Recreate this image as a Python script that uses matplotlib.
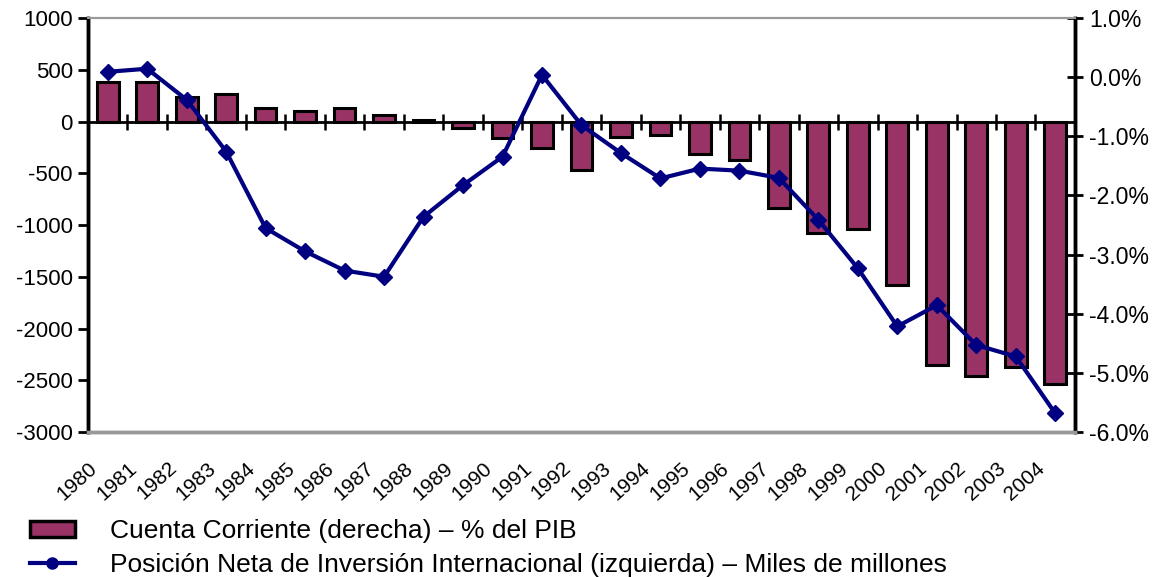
import matplotlib
matplotlib.use("Agg")
import matplotlib.pyplot as plt
import matplotlib.transforms as mtransforms
from matplotlib.lines import Line2D
from matplotlib.patches import Patch
import numpy as np

plt.rcParams['font.family'] = ['Liberation Sans', 'DejaVu Sans']
plt.rcParams['axes.unicode_minus'] = False

years = [str(y) for y in range(1980, 2005)]
# Posición Neta de Inversión Internacional (izquierda) – Miles de millones
pnii = [480, 510, 210, -290, -1030, -1255, -1440, -1500, -920, -615, -340, 450,
        -35, -305, -550, -455, -475, -545, -950, -1418, -1980, -1775, -2160, -2270, -2820]
# Cuenta Corriente (derecha) – % del PIB
cc = [-0.08, -0.08, -0.33, -0.29, -0.53, -0.57, -0.53, -0.64, -0.73, -0.86, -1.03, -1.20,
      -1.57, -1.01, -0.98, -1.30, -1.40, -2.22, -2.64, -2.56, -3.51, -4.86, -5.05, -4.90, -5.18]

left_lim = (-3000, 1000)
right_lim = (-6.0, 1.0)

fig = plt.figure(figsize=(11.59, 5.77), dpi=100)
ax = fig.add_axes([0.0759, 0.2513, 0.8516, 0.7175])
ax2 = ax.twinx()

x = np.arange(len(years))

# baseline of bars: right-axis value where the left-axis zero (category axis) lies
frac0 = (0 - left_lim[0]) / (left_lim[1] - left_lim[0])
base = right_lim[0] + frac0 * (right_lim[1] - right_lim[0])
cc_arr = np.array(cc)
ax2.bar(x, cc_arr - base, bottom=base, width=0.55, color='#993366',
        edgecolor='black', linewidth=2.2, zorder=2)
ax2.set_ylim(*right_lim)
rt = np.arange(-6, 1.01, 1)
ax2.set_yticks(rt)
ax2.set_yticklabels([f"{v:.1f}%" for v in rt])

ax.set_zorder(ax2.get_zorder() + 1)
ax.patch.set_visible(False)
ax.plot(x, pnii, color='#000080', lw=3, marker='D', markersize=8, zorder=5)
ax.set_ylim(*left_lim)
ax.set_yticks(np.arange(-3000, 1001, 500))
ax.set_xlim(-0.5, len(years) - 0.5)
ax.set_xticks(x)
ax.set_xticklabels(years, rotation=42, ha='right', va='center',
                   rotation_mode='anchor', fontsize=15)
ax.tick_params(axis='x', length=0, pad=24)
shift = mtransforms.ScaledTranslation(-13 / 100, 0, fig.dpi_scale_trans)
for lab in ax.get_xticklabels():
    lab.set_transform(lab.get_transform() + shift)
ax.tick_params(axis='y', direction='out', length=7, width=2, labelsize=16, pad=4)
ax2.tick_params(axis='y', direction='inout', length=12, width=2, labelsize=16.5, pad=4)

for a in (ax, ax2):
    a.spines['top'].set_color('#999999')
    a.spines['top'].set_linewidth(1.5)
    a.spines['bottom'].set_color('#999999')
    a.spines['bottom'].set_linewidth(2.5)
    a.spines['left'].set_linewidth(2.5)
    a.spines['right'].set_linewidth(2.5)
    a.spines['left'].set_color('black')
    a.spines['right'].set_color('black')

# category axis at left-axis zero
sec = ax.secondary_xaxis(frac0)
sec.set_xticks(np.arange(-0.5, len(years) - 0.4, 1.0))
sec.set_xticklabels([])
sec.tick_params(axis='x', direction='inout', length=12, width=1.8, color='black')
sec.spines['bottom'].set_color('black')
sec.spines['bottom'].set_linewidth(2)
sec.spines['top'].set_color('black')
sec.spines['top'].set_linewidth(2)

handles = [Patch(facecolor='#993366', edgecolor='black', linewidth=2.5),
           Line2D([0], [0], color='#000080', lw=3, marker='o', markersize=8)]
labels = ['Cuenta Corriente (derecha) – % del PIB',
          'Posición Neta de Inversión Internacional (izquierda) – Miles de millones']
fig.legend(handles, labels, loc='upper left', bbox_to_anchor=(0.0167, 0.118),
           frameon=False, fontsize=19, handlelength=1.7, handleheight=0.57,
           handletextpad=1.33, labelspacing=0.36, borderaxespad=0)

fig.savefig('out.png', dpi=100)
